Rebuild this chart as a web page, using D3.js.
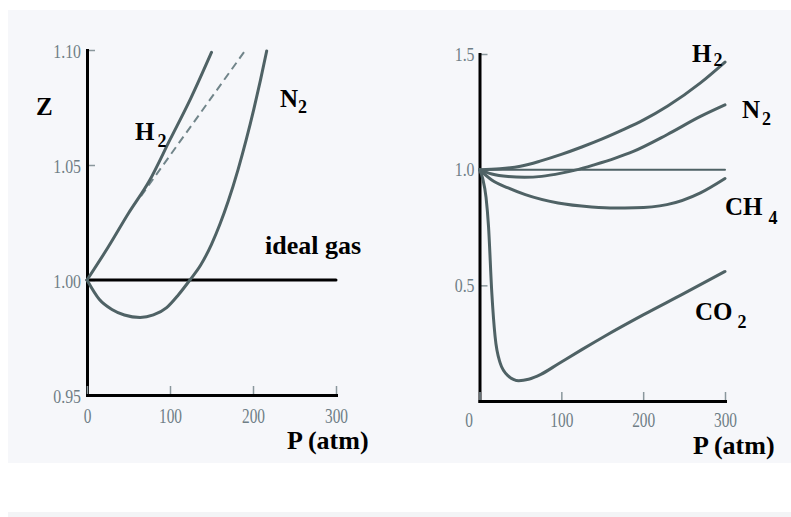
<!DOCTYPE html>
<html>
<head>
<meta charset="utf-8">
<script src="https://cdn.jsdelivr.net/npm/d3@7"></script>
<style>
    html, body { margin: 0; padding: 0; background: #fff; }
    svg { display: block; }
    .tick text { font-family: "Liberation Serif", "Times New Roman", serif; fill: #6f7e86; }
    .tick line { stroke: #8a979c; stroke-width: 1.5; }
    .domain { stroke: #000; stroke-width: 3; stroke-linecap: square; }
    .lbl { font-family: "Liberation Serif", "Times New Roman", serif; font-weight: bold; fill: #000; }
</style>
</head>
<body>
<div id="chart"></div>
<script>
// 刻度
const ticksX = [0, 100, 200, 300];
const ticksLeftY = [0.95, 1.00, 1.05, 1.10];
const ticksRightY = [0.5, 1.0, 1.5];

// 左图 (P, Z)
const idealLeft = [[0, 1.0], [300, 1.0]];
const h2Left = [[0, 1.0], [25, 1.014], [50, 1.029], [75, 1.043], [100, 1.061], [125, 1.079], [150, 1.099]];
const h2Tangent = [[65, 1.0365], [191, 1.10]];
const n2Left = [[0, 1.0], [15, 0.9915], [30, 0.9872], [45, 0.9848], [64, 0.9837], [80, 0.9848], [96, 0.988],
    [110, 0.9935], [124, 1.0], [137, 1.0065], [150, 1.0155], [160, 1.0241], [170, 1.0341], [182, 1.048],
    [192, 1.0612], [201, 1.0743], [209, 1.0869], [216.5, 1.0996]];

// 右图 (P, Z)
const idealRight = [[0, 1.0], [300, 1.0]];
const h2Right = [[0, 1.0], [25, 1.004], [50, 1.015], [75, 1.038], [100, 1.066], [125, 1.098], [150, 1.133],
    [175, 1.172], [200, 1.214], [230, 1.275], [270, 1.375], [300, 1.465]];
const n2Right = [[0, 1.0], [15, 0.981], [35, 0.970], [55, 0.967], [76, 0.971], [100, 0.985], [117, 0.998],
    [141, 1.022], [166, 1.05], [188, 1.079], [229, 1.151], [270, 1.23], [300, 1.28]];
const ch4Right = [[0, 1.0], [15, 0.955], [35, 0.921], [56, 0.892], [96, 0.856], [137, 0.839], [165, 0.834],
    [190, 0.835], [229, 0.849], [270, 0.90], [300, 0.962]];
const co2Right = [[0, 1.0], [4, 0.96], [8, 0.88], [11, 0.756], [15, 0.47], [19, 0.28], [25, 0.167], [35, 0.109],
    [48, 0.088], [60, 0.094], [75, 0.115], [96, 0.160], [125, 0.222], [154, 0.282], [200, 0.372], [250, 0.465], [300, 0.56]];

const W = 791, H = 517;
const curveColor = '#4f6265';

const svg = d3.select('#chart')
    .append('svg')
    .attr('width', W)
    .attr('height', H);

// 扫描底色
svg.append('rect').attr('x', 8).attr('y', 10).attr('width', W - 8).attr('height', 453).attr('fill', '#f6f7fa');
svg.append('rect').attr('x', 8).attr('y', 512).attr('width', W - 8).attr('height', 5).attr('fill', '#f3f4f6');

function panel (opt) {
    const x = d3.scaleLinear().domain([0, 300]).range(opt.xRange);
    const y = d3.scaleLinear().domain(opt.yDomain).range(opt.yRange);
    const g = svg.append('g');

    // 坐标轴 (窄字体: 横向压缩)
    const gy = g.append('g')
        .attr('transform', `translate(${opt.xRange[0]}, 0)`)
        .call(d3.axisLeft(y).tickValues(opt.yTicks).tickFormat(d3.format(opt.yFormat))
            .tickSize(-8).tickSizeOuter(0).tickPadding(opt.yPad));
    gy.selectAll('.tick text')
        .attr('font-size', 18)
        .attr('x', -opt.yPad / 0.88)
        .attr('transform', 'scale(0.88, 1)')
        .attr('dy', opt.yDy);

    const gx = g.append('g')
        .attr('transform', `translate(0, ${opt.yRange[0]})`)
        .call(d3.axisBottom(x).tickValues(ticksX).tickFormat(d3.format('d'))
            .tickSize(-9).tickSizeOuter(0).tickPadding(opt.xPad));
    gx.selectAll('.tick text')
        .attr('font-size', 22)
        .attr('transform', 'scale(0.7, 1)')
        .filter((d) => d === 0).attr('dx', opt.zeroDx / 0.7);

    gy.select('.domain').raise();
    gx.select('.domain').raise();

    const line = d3.line()
        .x((d) => x(d[0]))
        .y((d) => y(d[1]))
        .curve(d3.curveMonotoneX);

    opt.series.forEach((s) => {
        g.append('path')
            .datum(s.data)
            .attr('d', line)
            .attr('fill', 'none')
            .attr('stroke', s.color || curveColor)
            .attr('stroke-width', s.width || 3)
            .attr('stroke-dasharray', s.dash || null)
            .attr('stroke-linecap', s.dash ? 'butt' : 'round');
    });
    return g;
}

function label (x, y, main, sub, subDx, subDy, size) {
    const t = svg.append('text')
        .attr('class', 'lbl')
        .attr('x', x)
        .attr('y', y)
        .attr('font-size', size || 25)
        .text(main);
    if (sub) {
        t.append('tspan')
            .attr('font-size', 18)
            .attr('dx', subDx)
            .attr('dy', subDy)
            .text(sub);
    }
}

panel({
    xRange: [87, 336],
    yDomain: [0.95, 1.10],
    yRange: [395, 50],
    yTicks: ticksLeftY,
    yFormat: '.2f',
    yPad: 6,
    yDy: '0.4em',
    xPad: 12,
    zeroDx: 0,
    series: [
        { data: idealLeft, color: '#000' },
        { data: h2Tangent, color: '#71858a', width: 2, dash: '8,5' },
        { data: h2Left },
        { data: n2Left }
    ]
});

panel({
    xRange: [479.5, 725],
    yDomain: [0, 1.5],
    yRange: [401, 54],
    yTicks: ticksRightY,
    yFormat: '.1f',
    yPad: 5,
    yDy: '0.34em',
    xPad: 10,
    zeroDx: -11,
    series: [
        { data: idealRight, width: 2 },
        { data: h2Right },
        { data: n2Right },
        { data: ch4Right },
        { data: co2Right }
    ]
});

// 文字
label(36, 115, 'Z');
label(135, 140, 'H', '2', 3, 7);
label(280, 107, 'N', '2', 0, 6);
label(265, 254, 'ideal gas', null, 0, 0, 26);
label(287, 449, 'P (atm)', null, 0, 0, 26);

label(692, 62, 'H', '2', 2, 4);
label(742, 118, 'N', '2', 2, 7);
label(725, 215, 'CH', '4', 6, 9);
label(695, 320, 'CO', '2', 5, 8);
label(693, 454, 'P (atm)', null, 0, 0, 26);
</script>
</body>
</html>
